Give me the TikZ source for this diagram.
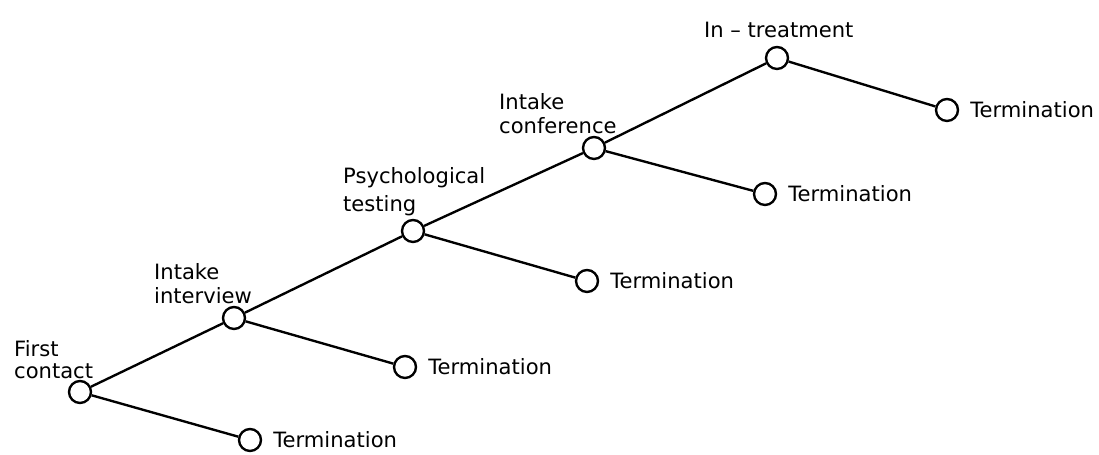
\documentclass[tikz,border=0pt]{standalone}
\usepackage{fontspec}
\setmainfont{DejaVu Sans}
\usetikzlibrary{positioning}
\tikzset{
	stage/.style={circle,draw,fill=white,minimum size=0.44cm,inner sep=0},
	lab/.style={inner sep=0,align=left,font=\fontsize{12}{14}\selectfont},
}
\begin{document}
\begin{tikzpicture}[x=0.02cm,y=-0.02cm,line width=1.35pt]
	\useasboundingbox (0,0) rectangle (1099,455);
	
	%Stufen
	\node[stage] (fc) at (80,392) {};
	\node[stage] (ii) at (234,318) {};
	\node[stage] (pt) at (413,231) {};
	\node[stage] (ic) at (594,148) {};
	\node[stage] (it) at (777,58) {};
	
	%Abbruch
	\node[stage] (t1) at (250,440) {};
	\node[stage] (t2) at (405,367) {};
	\node[stage] (t3) at (587,281) {};
	\node[stage] (t4) at (765,194) {};
	\node[stage] (t5) at (947,110) {};
	
	\foreach \a/\b in {fc/ii,ii/pt,pt/ic,ic/it,fc/t1,ii/t2,pt/t3,ic/t4,it/t5}
		\draw (\a) -- (\b);
	
	%Beschriftung
	\node[lab,anchor=north west,font=\fontsize{12}{12.5}\selectfont] (fcl) at (13,339) {First\\contact};
	\node[lab,anchor=north west] (iil) at (153,262) {Intake\\interview};
	\node[lab,anchor=north west,font=\fontsize{12}{16}\selectfont] (ptl) at (342,166) {Psychological\\testing};
	\node[lab,anchor=north west] (icl) at (498,92) {Intake\\conference};
	\node[lab,anchor=north west] (itl) at (703,21) {In -- treatment};
	
	\foreach \t in {t1,t2,t3,t4,t5}
		\node[lab,right=0.2cm of \t] (\t l) {Termination};
	
\end{tikzpicture}
\end{document}
